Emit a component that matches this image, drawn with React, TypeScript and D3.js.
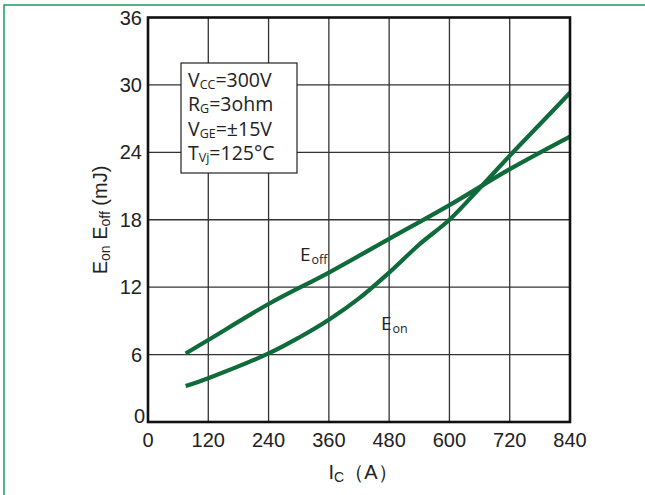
import React from 'react';
import * as d3 from 'd3';

const xTicks = [0, 120, 240, 360, 480, 600, 720, 840];
const yTicks = [0, 6, 12, 18, 24, 30, 36];

const eoffIc = [75, 120, 240, 360, 480, 600, 720, 840];
const eoffE = [6.1, 7.3, 10.5, 13.3, 16.3, 19.3, 22.5, 25.4];

const eonIc = [75, 120, 240, 300, 360, 420, 480, 540, 600, 660, 720, 780, 840];
const eonE = [3.2, 3.9, 6.1, 7.5, 9.1, 11.0, 13.3, 15.8, 18.0, 20.8, 23.7, 26.5, 29.3];

const conditions = [
  { main: 'V', sub: 'CC', rest: '=300V' },
  { main: 'R', sub: 'G', rest: '=3ohm' },
  { main: 'V', sub: 'GE', rest: '=\u00b115V' },
  { main: 'T', sub: 'Vj', rest: '=125\u00b0C' },
];

const width = 645;
const height = 495;
const margin = { top: 17.5, right: 75, bottom: 73, left: 148 };

const curveColor = '#0f6b3a';
const tickFont = '"Liberation Sans", Arial, sans-serif';
const labelFont = '"Open Sans", "Noto Sans", sans-serif';

const App = () => {
  const xScale = d3.scaleLinear()
    .domain([0, 840])
    .range([margin.left, width - margin.right]);

  const yScale = d3.scaleLinear()
    .domain([0, 36])
    .range([height - margin.bottom, margin.top]);

  const line = d3.line<[number, number]>()
    .x(d => xScale(d[0]))
    .y(d => yScale(d[1]))
    .curve(d3.curveCatmullRom.alpha(0.5));

  const eoff = line(eoffIc.map((v, i) => [v, eoffE[i]]) as [number, number][]);
  const eon = line(eonIc.map((v, i) => [v, eonE[i]]) as [number, number][]);

  const x0 = xScale(0), x1 = xScale(840);
  const y0 = yScale(0), y1 = yScale(36);

  return (
    <svg width={width} height={height} viewBox={`0 0 ${width} ${height}`}
      style={{ position: 'absolute', left: 0, top: 0, background: '#fff' }}>
      {/* outer frame */}
      <rect x={4} y={5} width={width + 10} height={height + 10} fill="none" stroke="#1c9a60" strokeWidth={1.5} />

      {/* grid */}
      <g stroke="#333" strokeWidth={1.3}>
        {xTicks.slice(1, -1).map(t => (
          <line key={'gx' + t} x1={xScale(t)} x2={xScale(t)} y1={y1} y2={y0} />
        ))}
        {yTicks.slice(1, -1).map(t => (
          <line key={'gy' + t} x1={x0} x2={x1} y1={yScale(t)} y2={yScale(t)} />
        ))}
      </g>

      {/* conditions box */}
      <rect x={181} y={63} width={116} height={110} fill="#fff" stroke="#222" strokeWidth={1.2} />
      <g fontFamily={labelFont} fontSize={19.5} fontWeight={500} fill="#222">
        {conditions.map((c, i) => (
          <text key={i} x={188} y={87 + i * 24.3}>
            {c.main}
            <tspan fontSize={12.5} dy={2}>{c.sub}</tspan>
            <tspan dy={-2}>{c.rest}</tspan>
          </text>
        ))}
      </g>

      {/* curves */}
      <path d={eoff ?? ''} fill="none" stroke={curveColor} strokeWidth={4.2} />
      <path d={eon ?? ''} fill="none" stroke={curveColor} strokeWidth={4.2} />

      {/* curve labels */}
      <g fontFamily={labelFont} fill="#222" fontWeight={500}>
        <text x={300} y={261} fontSize={19}>E<tspan fontSize={12.5} dx={1} dy={3}>off</tspan></text>
        <text x={381} y={330} fontSize={19}>E<tspan fontSize={12.5} dx={1} dy={3}>on</tspan></text>
      </g>

      {/* plot border */}
      <rect x={x0} y={y1} width={x1 - x0} height={y0 - y1} fill="none" stroke="#111" strokeWidth={2.6} />

      {/* tick labels */}
      <g fontFamily={tickFont} fontSize={20} fill="#222">
        {yTicks.map(t => (
          <text key={'ty' + t} x={t === 0 ? 145 : 142} y={yScale(t) + (t === 0 ? 1 : 7)} textAnchor="end">{t}</text>
        ))}
        {xTicks.map(t => (
          <text key={'tx' + t} x={xScale(t)} y={447} textAnchor="middle">{t}</text>
        ))}
      </g>

      {/* axis titles */}
      <text x={363} y={479} fontFamily={tickFont} fontSize={20} fill="#222" textAnchor="middle">
        I<tspan fontSize={14} dy={3}>C</tspan><tspan dy={-3}>{'\uff08A\uff09'}</tspan>
      </text>
      <text transform="translate(107,220) rotate(-90)" fontFamily={tickFont} fontSize={20} fill="#222" textAnchor="middle">
        E<tspan fontSize={14} dy={3}>on</tspan><tspan dy={-3}> E</tspan><tspan fontSize={14} dy={3}>off</tspan><tspan dy={-3}> (mJ)</tspan>
      </text>
    </svg>
  );
};

export default App;
